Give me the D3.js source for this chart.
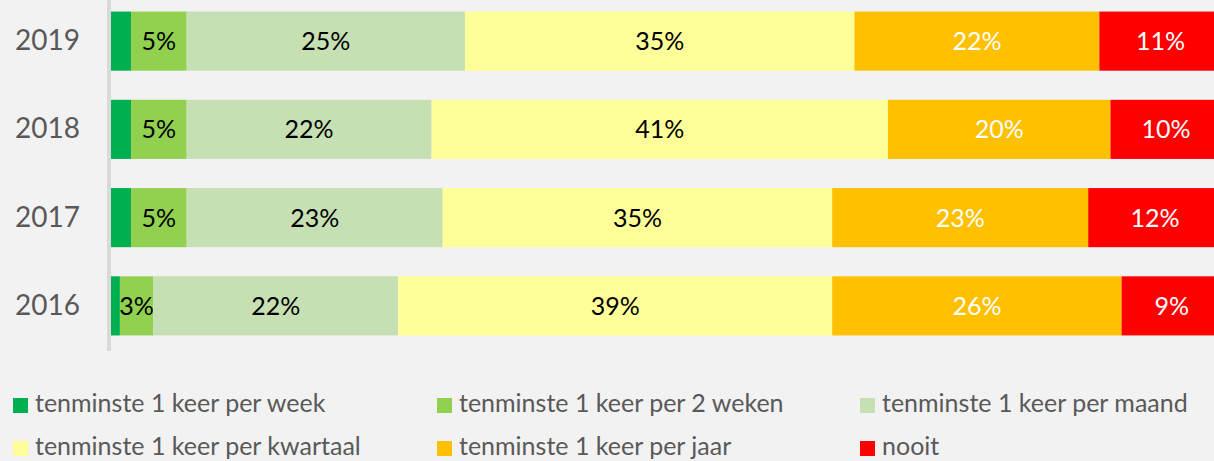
<!DOCTYPE html>
<html>
<head>
<meta charset="utf-8">
<script src="https://cdn.jsdelivr.net/npm/d3@7"></script>
<style>
  html, body { margin: 0; padding: 0; background: #f2f2f2; }
  svg { display: block; }
</style>
</head>
<body>
<svg id="mainsvg" width="1214" height="461"></svg>
<script>
const years = ['2019', '2018', '2017', '2016'];
const series = [
  'tenminste 1 keer per week',
  'tenminste 1 keer per 2 weken',
  'tenminste 1 keer per maand',
  'tenminste 1 keer per kwartaal',
  'tenminste 1 keer per jaar',
  'nooit'
];
const colors = ['#00b050', '#92d050', '#c6e0b4', '#ffff99', '#ffc000', '#ff0000'];
const labelColors = ['#000', '#000', '#000', '#000', '#fff', '#fff'];
// percentages per year, same order as series
const week     = [1.8, 1.8, 1.8, 0.8];
const weken2   = [5, 5, 5, 3];
const maand    = [25, 22, 23, 22];
const kwartaal = [35, 41, 35, 39];
const jaar     = [22, 20, 23, 26];
const nooit    = [11, 10, 12, 9];
const showLabel = [false, true, true, true, true, true];

const values = [week, weken2, maand, kwartaal, jaar, nooit];
const table = years.map((y, i) => {
  const row = {year: y};
  series.forEach((s, k) => row[s] = values[k][i]);
  return row;
});

const svg = d3.select('#mainsvg');

const xScale = d3.scaleLinear().domain([0, 100]).range([111, 1224]);
const yScale = d3.scaleBand().domain(years).range([-3, 350]).paddingInner(0.33).paddingOuter(0.165);

const layers = d3.stack().keys(series)(table);

const g = svg.append('g');

layers.forEach((layer, k) => {
  g.selectAll(null).data(layer).enter().append('rect')
    .attr('x', d => xScale(d[0]))
    .attr('width', d => xScale(d[1]) - xScale(d[0]))
    .attr('y', d => yScale(d.data.year))
    .attr('height', yScale.bandwidth())
    .attr('fill', colors[k]);
  if (showLabel[k]) {
    g.selectAll(null).data(layer).enter().append('text')
      .attr('x', d => (xScale(d[0]) + xScale(d[1])) / 2)
      .attr('y', d => yScale(d.data.year) + yScale.bandwidth() / 2)
      .attr('dy', '0.36em')
      .attr('text-anchor', 'middle')
      .attr('font-family', 'Lato, sans-serif')
      .attr('font-size', 25)
      .attr('fill', labelColors[k])
      .text(d => Math.round(d[1] - d[0]) + '%');
  }
});

// category axis
const yAxis = d3.axisLeft(yScale).tickSize(0).tickPadding(29);
const ya = g.append('g').attr('transform', 'translate(109,0)').call(yAxis);
ya.select('.domain').attr('stroke', '#d9d9d9').attr('stroke-width', 4).attr('d', 'M0,0V351');
ya.selectAll('.tick text')
  .attr('font-family', 'Lato, sans-serif')
  .attr('font-size', 28)
  .attr('fill', '#595959');

// legend
const legendPos = [[13, 405], [437, 405], [860, 405], [13, 448], [437, 448], [860, 448]];
const legend = svg.append('g');
series.forEach((s, k) => {
  const [lx, ly] = legendPos[k];
  legend.append('rect').attr('x', lx).attr('y', ly - 7).attr('width', 15).attr('height', 15).attr('fill', colors[k]);
  legend.append('text')
    .attr('x', lx + 22).attr('y', ly)
    .attr('dy', '0.28em')
    .attr('font-family', 'Lato, sans-serif')
    .attr('font-size', 25)
    .attr('fill', '#595959')
    .text(s);
});
</script>
</body>
</html>
